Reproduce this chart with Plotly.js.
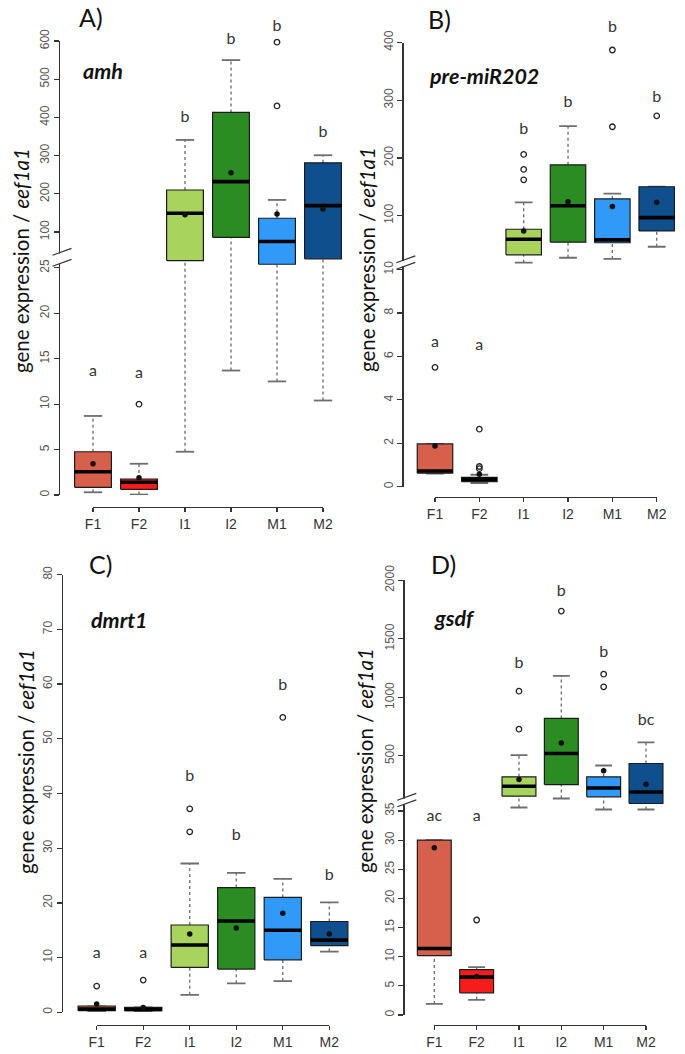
<!DOCTYPE html>
<html><head><meta charset="utf-8">
<script src="https://cdn.plot.ly/plotly-3.0.1.min.js"></script>
<style>html,body{margin:0;padding:0;background:#fff}#chart{width:685px;height:1054px}</style>
</head><body><div id="chart"></div>
<script>
// ---------------- DATA ----------------
const groups = ['F1', 'F2', 'I1', 'I2', 'M1', 'M2'];

// A) amh
const amhQ1 = [0.85, 0.63, 25.8, 86, 25.4, 26];
const amhMedian = [2.56, 1.4, 149, 232, 75, 169];
const amhQ3 = [4.76, 1.76, 210, 413, 136, 281];
const amhLowerWhisker = [0.3, 0.05, 4.76, 13.7, 12.5, 10.4];
const amhUpperWhisker = [8.7, 3.44, 341, 550, 184, 301];
const amhMean = [3.44, 1.9, 145, 255, 147, 160];
const amhOutliers = [[], [10.0], [], [], [430, 597], []];
const amhLetters = ['a', 'a', 'b', 'b', 'b', 'b'];
const amhLetterY = [13.5, 13.3, 398, 602, 637, 360];
const amhLowTicks = [0, 5, 10, 15, 20, 25];
const amhHighTicks = [100, 200, 300, 400, 500, 600];

// B) pre-miR202
const mirQ1 = [0.62, 0.23, 32, 54, 53, 73.5];
const mirMedian = [0.72, 0.34, 59, 117, 58, 96.5];
const mirQ3 = [1.97, 0.43, 76.4, 188, 129, 150];
const mirLowerWhisker = [0.6, 0.17, 18.5, 27, 25, 46];
const mirUpperWhisker = [1.97, 0.55, 123, 255, 138, 150];
const mirMean = [1.88, 0.57, 73.5, 124, 116, 123];
const mirOutliers = [[5.5], [2.65, 0.93, 0.83], [162, 180, 206], [], [254, 387], [273]];
const mirLetters = ['a', 'a', 'b', 'b', 'b', 'b'];
const mirLetterY = [6.6, 6.5, 248, 296, 426, 303];
const mirLowTicks = [0, 2, 4, 6, 8, 10];
const mirHighTicks = [100, 200, 300, 400];

// C) dmrt1
const dmrtQ1 = [0.3, 0.3, 8.2, 7.9, 9.6, 12.2];
const dmrtMedian = [0.6, 0.5, 12.3, 16.7, 15.0, 13.2];
const dmrtQ3 = [1.15, 0.9, 15.96, 22.8, 21.0, 16.6];
const dmrtLowerWhisker = [0.2, 0.2, 3.2, 5.3, 5.7, 11.1];
const dmrtUpperWhisker = [1.1, 0.9, 27.2, 25.5, 24.4, 20.1];
const dmrtMean = [1.5, 0.9, 14.3, 15.4, 18.1, 14.3];
const dmrtOutliers = [[4.8], [5.9], [33.0, 37.2], [], [53.9], []];
const dmrtLetters = ['a', 'a', 'b', 'b', 'b', 'b'];
const dmrtLetterY = [10.7, 10.7, 43, 32.2, 59.7, 25];
const dmrtTicks = [0, 10, 20, 30, 40, 50, 60, 70, 80];

// D) gsdf
const gsdfQ1 = [10.2, 3.8, 156, 255, 150, 93];
const gsdfMedian = [11.4, 6.5, 241, 520, 226, 192];
const gsdfQ3 = [30, 7.8, 321, 820, 321, 435];
const gsdfLowerWhisker = [1.9, 2.6, 59, 136, 42, 42];
const gsdfUpperWhisker = [30, 8.2, 506, 1184, 418, 615];
const gsdfMean = [28.7, 6.6, 298, 611, 372, 258];
const gsdfOutliers = [[], [16.3], [728, 1053], [1737], [1090, 1198], []];
const gsdfLetters = ['ac', 'a', 'b', 'b', 'b', 'bc'];
const gsdfLetterY = [34.0, 34.0, 1281, 1902, 1375, 797];
const gsdfLowTicks = [0, 5, 10, 15, 20, 25, 30, 35];
const gsdfHighTicks = [500, 1000, 1500, 2000];

// ---------------- STYLE / GEOMETRY ----------------
const groupColors = ['#D6604B', '#F71C1C', '#A8D45E', '#2B8C24', '#3199F7', '#0F4F8E'];
const W = 685, H = 1054;
const fx = p => p / W;
const fy = p => 1 - p / H;

// broken-axis transform: lower segment identity, upper segment compressed
function makeTf(lo, a, b) {
  return v => (v == null ? null : (b == null || v <= lo ? v : a + b * v));
}

const panels = [
  { label: 'A)', gene: 'amh', tf: makeTf(26, 24.74, 0.04205), top: 600,
    q1: amhQ1, med: amhMedian, q3: amhQ3, wlo: amhLowerWhisker, whi: amhUpperWhisker,
    mean: amhMean, out: amhOutliers, letters: amhLetters, letterY: amhLetterY,
    lowTicks: amhLowTicks, highTicks: amhHighTicks,
    g: { axisX: 58.5, y0: 495, yTop: 41, xFirst: 93, xLast: 323, xAxisY: 507,
         brk: [253, 264], labX: 77, labY: 17, geneX: 81, geneY: 71, titX: 21, titY: 261 } },
  { label: 'B)', gene: 'pre-miR202', tf: makeTf(10, 9.829, 0.02658), top: 400,
    q1: mirQ1, med: mirMedian, q3: mirQ3, wlo: mirLowerWhisker, whi: mirUpperWhisker,
    mean: mirMean, out: mirOutliers, letters: mirLetters, letterY: mirLetterY,
    lowTicks: mirLowTicks, highTicks: mirHighTicks,
    g: { axisX: 402.3, y0: 486.7, yTop: 42.5, xFirst: 435, xLast: 656.7, xAxisY: 496.7,
         brk: [260.5, 267], labX: 426, labY: 19, geneX: 427, geneY: 76, titX: 367, titY: 260 } },
  { label: 'C)', gene: 'dmrt1', tf: makeTf(0, 0, null), top: 80,
    q1: dmrtQ1, med: dmrtMedian, q3: dmrtQ3, wlo: dmrtLowerWhisker, whi: dmrtUpperWhisker,
    mean: dmrtMean, out: dmrtOutliers, letters: dmrtLetters, letterY: dmrtLetterY,
    lowTicks: dmrtTicks, highTicks: [],
    g: { axisX: 61.7, y0: 1012.3, yTop: 574.7, xFirst: 96.7, xLast: 329.3, xAxisY: 1025,
         brk: null, labX: 87, labY: 564, geneX: 89, geneY: 620, titX: 26, titY: 762 } },
  { label: 'D)', gene: 'gsdf', tf: makeTf(35, 34.41, 0.02008), top: 2000,
    q1: gsdfQ1, med: gsdfMedian, q3: gsdfQ3, wlo: gsdfLowerWhisker, whi: gsdfUpperWhisker,
    mean: gsdfMean, out: gsdfOutliers, letters: gsdfLetters, letterY: gsdfLetterY,
    lowTicks: gsdfLowTicks, highTicks: gsdfHighTicks,
    g: { axisX: 403.3, y0: 1015, yTop: 580.3, xFirst: 434.3, xLast: 646, xAxisY: 1025,
         brk: [798, 804.5], labX: 429, labY: 564, geneX: 432, geneY: 618, titX: 365, titY: 761 } }
];

const tickFont = { family: 'Liberation Sans, Arial, sans-serif', size: 12, color: '#555' };
const xTickFont = { family: 'Liberation Sans, Arial, sans-serif', size: 14, color: '#333' };
const txtFam = 'Lato, Open Sans, sans-serif';

const traces = [];
const layout = {
  width: W, height: H, margin: { l: 0, r: 0, t: 0, b: 0 },
  paper_bgcolor: '#fff', plot_bgcolor: 'rgba(0,0,0,0)', showlegend: false,
  shapes: [], annotations: []
};

const halfBox = 0.4, halfStaple = 0.2;
const letterHeadroom = 40; // px of extra room above the axis for letters

panels.forEach((p, k) => {
  const g = p.g, tf = p.tf;
  const nMain = 2 * k + 1, nDec = 2 * k + 2, nY = 2 * k + 1, nYL = 2 * k + 2;
  const xid = n => (n === 1 ? 'x' : 'x' + n);
  const yid = n => (n === 1 ? 'y' : 'y' + n);
  const xkey = n => (n === 1 ? 'xaxis' : 'xaxis' + n);
  const ykey = n => (n === 1 ? 'yaxis' : 'yaxis' + n);
  const step = (g.xLast - g.xFirst) / (groups.length - 1);
  const pos = groups.map((_, i) => i + 1);
  const yMax = tf(p.top);
  const pxPerUnit = (g.y0 - g.yTop) / yMax;

  // axes
  layout[xkey(nMain)] = {
    domain: [fx(g.xFirst - 0.5 * step), fx(g.xLast + 0.5 * step)],
    range: [0.5, groups.length + 0.5], visible: false, anchor: 'free', position: fy(g.y0),
    fixedrange: true
  };
  layout[xkey(nDec)] = {
    domain: [fx(g.xFirst), fx(g.xLast)], range: [1, groups.length],
    anchor: 'free', position: fy(g.xAxisY),
    showline: true, linecolor: '#333', linewidth: 1.2, showgrid: false, zeroline: false,
    ticks: 'outside', ticklen: 4, tickwidth: 1.2, tickcolor: '#333',
    tickmode: 'array', tickvals: pos, ticktext: groups, tickfont: xTickFont, fixedrange: true
  };
  const tv = p.lowTicks.concat(p.highTicks.map(tf));
  const tt = p.lowTicks.concat(p.highTicks).map(String);
  layout[ykey(nY)] = {
    domain: [fy(g.y0), fy(g.yTop)], range: [0, yMax],
    anchor: 'free', position: fx(g.axisX),
    showline: true, linecolor: '#333', linewidth: 1.2, showgrid: false, zeroline: false,
    ticks: 'outside', ticklen: 5, tickwidth: 1.2, tickcolor: '#333',
    tickmode: 'array', tickvals: tv, ticktext: tt, tickangle: -90, tickfont: tickFont,
    fixedrange: true
  };
  // same scale as the panel axis, extended upward so letters above the top tick stay visible
  layout[ykey(nYL)] = {
    domain: [fy(g.y0), fy(g.yTop - letterHeadroom)],
    range: [0, yMax + letterHeadroom / pxPerUnit],
    anchor: 'free', position: fx(g.axisX), visible: false, fixedrange: true
  };

  const X = xid(nMain), Y = yid(nY);
  const base = { xaxis: X, yaxis: Y, hoverinfo: 'skip', cliponaxis: false, showlegend: false };

  // whiskers (dotted)
  const wx = [], wy = [];
  pos.forEach((x, i) => {
    wx.push(x, x, null, x, x, null);
    wy.push(tf(p.wlo[i]), tf(p.q1[i]), null, tf(p.q3[i]), tf(p.whi[i]), null);
  });
  traces.push(Object.assign({ type: 'scatter', mode: 'lines', x: wx, y: wy,
    line: { color: '#6a6a6a', width: 1.3, dash: 'dot' } }, base));

  // staples
  const sx = [], sy = [];
  pos.forEach((x, i) => {
    sx.push(x - halfStaple, x + halfStaple, null, x - halfStaple, x + halfStaple, null);
    sy.push(tf(p.wlo[i]), tf(p.wlo[i]), null, tf(p.whi[i]), tf(p.whi[i]), null);
  });
  traces.push(Object.assign({ type: 'scatter', mode: 'lines', x: sx, y: sy,
    line: { color: '#6e6e6e', width: 1.8 } }, base));

  // boxes
  pos.forEach((x, i) => {
    traces.push(Object.assign({ type: 'scatter', mode: 'lines', fill: 'toself',
      x: [x - halfBox, x + halfBox, x + halfBox, x - halfBox, x - halfBox],
      y: [tf(p.q1[i]), tf(p.q1[i]), tf(p.q3[i]), tf(p.q3[i]), tf(p.q1[i])],
      fillcolor: groupColors[i], line: { color: '#1c1c1c', width: 1.2 } }, base));
  });

  // medians
  const mx = [], my = [];
  pos.forEach((x, i) => {
    mx.push(x - halfBox, x + halfBox, null);
    my.push(tf(p.med[i]), tf(p.med[i]), null);
  });
  traces.push(Object.assign({ type: 'scatter', mode: 'lines', x: mx, y: my,
    line: { color: '#000', width: 3.6 } }, base));

  // outliers
  const ox = [], oy = [];
  pos.forEach((x, i) => p.out[i].forEach(v => { ox.push(x); oy.push(tf(v)); }));
  traces.push(Object.assign({ type: 'scatter', mode: 'markers', x: ox, y: oy,
    marker: { symbol: 'circle-open', size: 5.5, color: '#222', line: { width: 1.3, color: '#222' } } }, base));

  // means
  traces.push(Object.assign({ type: 'scatter', mode: 'markers', x: pos, y: p.mean.map(tf),
    marker: { symbol: 'circle', size: 5.5, color: '#111' } }, base));

  // significance letters
  traces.push({ type: 'scatter', mode: 'text', xaxis: xid(nDec), yaxis: yid(nYL), x: pos,
    y: p.letterY.map(tf), text: p.letters, textposition: 'middle center',
    textfont: { family: txtFam, size: 16, color: '#333' }, cliponaxis: false,
    hoverinfo: 'skip', showlegend: false });

  // axis break marks
  if (g.brk) {
    layout.shapes.push({ type: 'rect', xref: 'paper', yref: 'paper', layer: 'above',
      x0: fx(g.axisX - 2), x1: fx(g.axisX + 2), y0: fy(g.brk[0] + 0.5), y1: fy(g.brk[1] - 0.5),
      fillcolor: '#fff', line: { width: 0 } });
    g.brk.forEach(c => {
      layout.shapes.push({ type: 'line', xref: 'paper', yref: 'paper', layer: 'above',
        x0: fx(g.axisX - 6), y0: fy(c + 2.3), x1: fx(g.axisX + 13), y1: fy(c - 4.6),
        line: { color: '#333', width: 1.2 } });
    });
  }

  // panel label, gene name, y title
  layout.annotations.push(
    { xref: 'paper', yref: 'paper', x: fx(g.labX), y: fy(g.labY), xanchor: 'left', yanchor: 'middle',
      text: p.label, showarrow: false, font: { family: txtFam, size: 25, color: '#111' } },
    { xref: 'paper', yref: 'paper', x: fx(g.geneX), y: fy(g.geneY), xanchor: 'left', yanchor: 'middle',
      text: '<b><i>' + p.gene + '</i></b>', showarrow: false, font: { family: txtFam, size: 21.5, color: '#111' } },
    { xref: 'paper', yref: 'paper', x: fx(g.titX), y: fy(g.titY), xanchor: 'center', yanchor: 'middle',
      textangle: -90, text: 'gene expression / <i>eef1a1</i>', showarrow: false,
      font: { family: txtFam, size: 20.5, color: '#111' } }
  );
});

Plotly.newPlot('chart', traces, layout, { staticPlot: true, displayModeBar: false });
</script>
</body></html>
